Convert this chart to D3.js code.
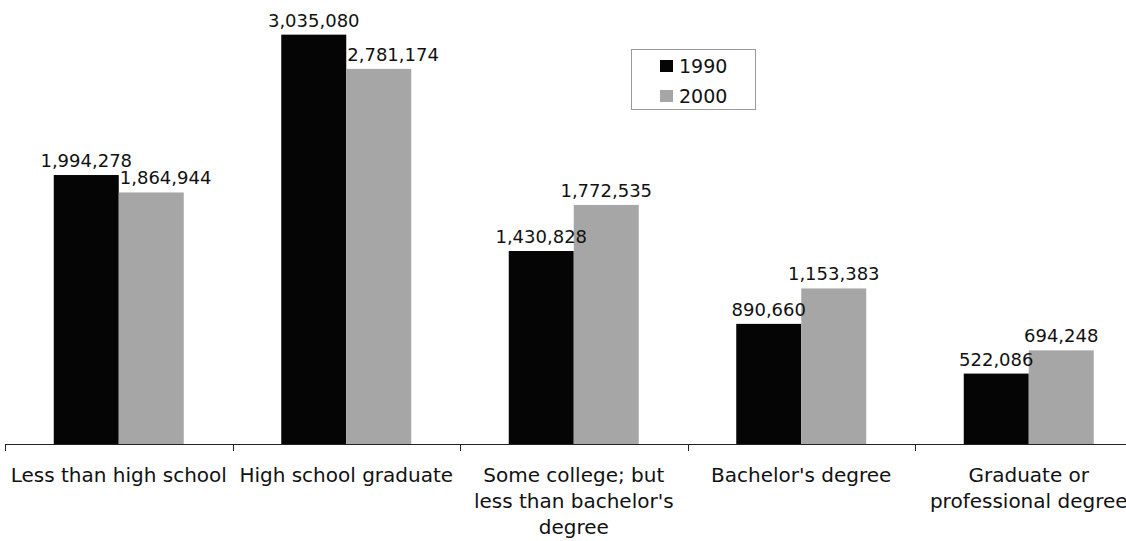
<!DOCTYPE html>
<html>
<head>
<meta charset="utf-8">
<script src="https://cdn.jsdelivr.net/npm/d3@7"></script>
<style>
  html, body { margin: 0; padding: 0; background: #fff; }
  svg { display: block; font-family: "DejaVu Sans", Verdana, sans-serif; }
</style>
</head>
<body>
<svg id="chart" width="1126" height="541"></svg>
<script>
const categories = [
  "Less than high school",
  "High school graduate",
  "Some college; but\nless than bachelor's\ndegree",
  "Bachelor's degree",
  "Graduate or\nprofessional degree"
];
const seriesNames = ["1990", "2000"];
const values1990 = [1994278, 3035080, 1430828, 890660, 522086];
const values2000 = [1864944, 2781174, 1772535, 1153383, 694248];
const seriesColors = ["#050505", "#a6a6a6"];

const W = 1126, H = 541;
const baseY = 444;
const svg = d3.select("#chart");

const x0 = d3.scaleBand().domain(categories).range([5, 5 + 227.5 * categories.length]).padding(0);
const bw = x0.bandwidth();
const x1 = d3.scaleBand().domain(seriesNames).range([bw * 0.2143, bw * 0.7857]).padding(0);
const y = d3.scaleLinear().domain([0, 3292000]).range([baseY, 0]);

const data = categories.map((c, i) => ({
  cat: c,
  vals: [values1990[i], values2000[i]].map((v, j) => ({ key: seriesNames[j], v: v, j: j }))
}));

const groups = svg.append("g").selectAll("g").data(data).join("g")
  .attr("transform", d => `translate(${x0(d.cat)},0)`);

groups.selectAll("rect").data(d => d.vals).join("rect")
  .attr("x", d => x1(d.key))
  .attr("y", d => y(d.v))
  .attr("width", x1.bandwidth())
  .attr("height", d => baseY - y(d.v))
  .attr("fill", d => seriesColors[d.j]);

// value labels: centred; a second-series label that would run into the
// taller bar on its left is moved to start at its own bar's left edge
const fmt = d3.format(",");
const labelSize = 18;
groups.each(function(d) {
  const g = d3.select(this);
  d.vals.forEach((v, k) => {
    const t = g.append("text")
      .attr("x", x1(v.key) + x1.bandwidth() / 2)
      .attr("y", y(v.v) - 8)
      .attr("text-anchor", "middle")
      .attr("font-size", labelSize)
      .attr("fill", "#111")
      .text(fmt(v.v));
    if (k > 0) {
      const prev = d.vals[k - 1];
      const bb = t.node().getBBox();
      const prevRight = x1(prev.key) + x1.bandwidth();
      if (bb.x < prevRight && bb.y + bb.height > y(prev.v)) {
        t.attr("text-anchor", "start").attr("x", x1(v.key) + 1);
      }
    }
  });
});

// x axis
const axisColor = "#222";
svg.append("line")
  .attr("x1", x0.range()[0]).attr("x2", x0.range()[1])
  .attr("y1", baseY + 0.5).attr("y2", baseY + 0.5)
  .attr("stroke", axisColor).attr("stroke-width", 1);
const tickXs = categories.map(c => x0(c)).concat([x0.range()[1]]);
svg.append("g").selectAll("line").data(tickXs).join("line")
  .attr("x1", d => Math.round(d) + 0.5).attr("x2", d => Math.round(d) + 0.5)
  .attr("y1", baseY).attr("y2", baseY + 7)
  .attr("stroke", axisColor).attr("stroke-width", 1);

// category labels
const catSize = 20;
const lineH = 26;
svg.append("g").selectAll("text").data(categories).join("text")
  .attr("text-anchor", "middle")
  .attr("font-size", catSize)
  .attr("fill", "#111")
  .each(function(c) {
    const t = d3.select(this);
    c.split("\n").forEach((ln, i) => {
      t.append("tspan")
        .attr("x", x0(c) + bw / 2)
        .attr("y", 482 + i * lineH)
        .text(ln);
    });
  });

// legend
const lg = svg.append("g");
lg.append("rect").attr("x", 631.5).attr("y", 49.5).attr("width", 124).attr("height", 60)
  .attr("fill", "#fff").attr("stroke", "#999").attr("stroke-width", 1);
seriesNames.forEach((s, i) => {
  lg.append("rect").attr("x", 660).attr("y", 60 + i * 30).attr("width", 13).attr("height", 12)
    .attr("fill", seriesColors[i]);
  lg.append("text").attr("x", 679).attr("y", 73 + i * 30)
    .attr("font-size", 19).attr("fill", "#111").text(s);
});
</script>
</body>
</html>
